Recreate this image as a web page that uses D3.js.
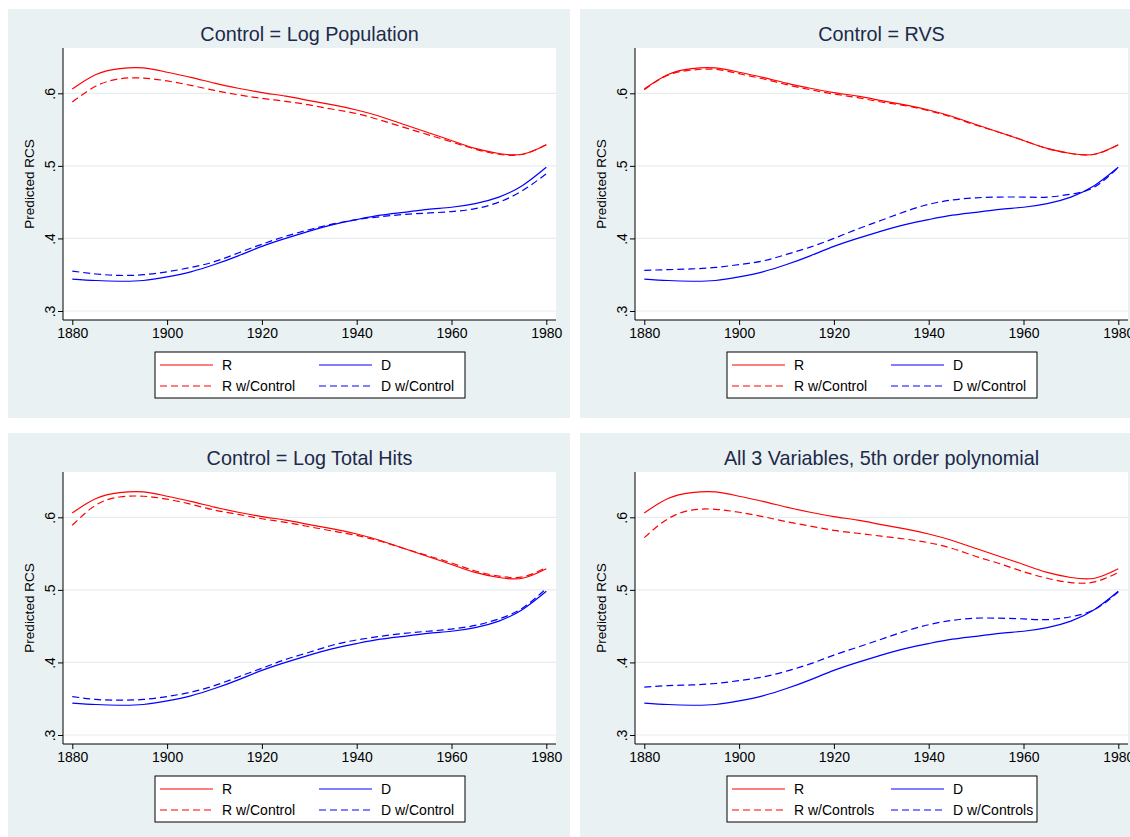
<!DOCTYPE html>
<html>
<head>
<meta charset="utf-8">
<script src="https://cdn.jsdelivr.net/npm/d3@7"></script>
<style>
  html, body { margin: 0; padding: 0; background: #ffffff; }
  svg { display: block; font-family: "Liberation Sans", Arial, Helvetica, sans-serif; }
</style>
</head>
<body>
<svg id="chart" width="1130" height="837"></svg>
<script>
// Sample years for the fitted curves (every 5 years)
const years = [1880, 1885, 1890, 1895, 1900, 1905, 1910, 1915, 1920, 1925, 1930,
               1935, 1940, 1945, 1950, 1955, 1960, 1965, 1970, 1975, 1980];

// Uncontrolled predictions (same in every panel)
const rBase = [0.606, 0.626, 0.634, 0.635, 0.629, 0.622, 0.614, 0.607, 0.601, 0.596, 0.590,
               0.584, 0.577, 0.568, 0.557, 0.546, 0.535, 0.524, 0.517, 0.516, 0.529];
const dBase = [0.344, 0.342, 0.341, 0.342, 0.347, 0.354, 0.364, 0.376, 0.389, 0.400, 0.410,
               0.419, 0.426, 0.432, 0.436, 0.440, 0.443, 0.448, 0.457, 0.473, 0.498];

// Predictions with controls
const rPop  = [0.588, 0.610, 0.620, 0.621, 0.617, 0.611, 0.604, 0.598, 0.593, 0.589, 0.584,
               0.578, 0.572, 0.563, 0.553, 0.543, 0.533, 0.523, 0.516, 0.516, 0.529];
const dPop  = [0.355, 0.351, 0.349, 0.350, 0.354, 0.360, 0.368, 0.380, 0.392, 0.403, 0.412,
               0.420, 0.426, 0.430, 0.433, 0.435, 0.437, 0.441, 0.450, 0.466, 0.489];
const rRvs  = [0.605, 0.625, 0.632, 0.633, 0.627, 0.620, 0.612, 0.605, 0.599, 0.594, 0.588,
               0.583, 0.576, 0.567, 0.556, 0.546, 0.535, 0.524, 0.517, 0.516, 0.529];
const dRvs  = [0.356, 0.357, 0.358, 0.360, 0.364, 0.369, 0.378, 0.388, 0.400, 0.413, 0.425,
               0.437, 0.447, 0.453, 0.456, 0.457, 0.457, 0.457, 0.461, 0.471, 0.498];
const rHits = [0.589, 0.617, 0.628, 0.629, 0.625, 0.618, 0.610, 0.604, 0.598, 0.593, 0.587,
               0.581, 0.575, 0.567, 0.557, 0.547, 0.537, 0.526, 0.519, 0.518, 0.531];
const dHits = [0.353, 0.349, 0.348, 0.349, 0.353, 0.359, 0.368, 0.380, 0.392, 0.404, 0.414,
               0.424, 0.431, 0.436, 0.440, 0.443, 0.446, 0.451, 0.460, 0.475, 0.502];
const rAll  = [0.572, 0.598, 0.610, 0.611, 0.607, 0.601, 0.594, 0.588, 0.582, 0.578, 0.574,
               0.570, 0.565, 0.557, 0.546, 0.536, 0.525, 0.516, 0.510, 0.511, 0.524];
const dAll  = [0.366, 0.368, 0.369, 0.371, 0.375, 0.380, 0.388, 0.398, 0.410, 0.421, 0.432,
               0.443, 0.452, 0.458, 0.461, 0.461, 0.460, 0.459, 0.463, 0.473, 0.497];

// Axis ticks
const xTicks = [1880, 1900, 1920, 1940, 1960, 1980];
const yTicks = [0.3, 0.4, 0.5, 0.6];
const yTickLabels = [".3", ".4", ".5", ".6"];

const titles = ["Control = Log Population", "Control = RVS", "Control = Log Total Hits", "All 3 Variables, 5th order polynomial"];
const ctrlLabels = ["Control", "Control", "Control", "Controls"];
const ctrlR = [rPop, rRvs, rHits, rAll];
const ctrlD = [dPop, dRvs, dHits, dAll];

const RED = "#ff0000", BLUE = "#0000ff";
const BG = "#eaf1f3", GRID = "#e6edf0", TITLE = "#1c2a4a";

const svg = d3.select("#chart");

// Panel placement
const panelW = 562, panelH = 409;
const panelPos = [[8, 9], [580, 9], [8, 433], [580, 433]];
// Plot area inside a panel
const plot = { left: 55, right: 548, top: 39, bottom: 311 };

const x = d3.scaleLinear().domain([1880, 1980]).range([64.3, 538.3]);
const y = d3.scaleLinear().domain([0.3, 0.6]).range([302, 84.3]);

titles.forEach((title, i) => {
  const [px, py] = panelPos[i];
  const g = svg.append("g").attr("transform", `translate(${px},${py})`);

  g.append("rect").attr("width", panelW).attr("height", panelH).attr("fill", BG);
  g.append("rect")
    .attr("x", plot.left).attr("y", plot.top)
    .attr("width", plot.right - plot.left).attr("height", plot.bottom - plot.top)
    .attr("fill", "#ffffff");

  // grid lines
  g.selectAll(".grid").data(yTicks).join("line")
    .attr("x1", plot.left).attr("x2", plot.right)
    .attr("y1", d => y(d)).attr("y2", d => y(d))
    .attr("stroke", GRID).attr("stroke-width", 1.2);

  // title
  g.append("text")
    .attr("x", (plot.left + plot.right) / 2).attr("y", 32)
    .attr("text-anchor", "middle")
    .attr("font-size", 19.8).attr("fill", TITLE)
    .text(title);

  // y axis
  const yAxis = d3.axisLeft(y).tickValues(yTicks).tickSize(5)
    .tickFormat((d, k) => yTickLabels[k]);
  const ya = g.append("g").attr("transform", `translate(${plot.left},0)`).call(yAxis);
  ya.select(".domain").attr("d", `M0,${plot.top}V${plot.bottom}`).attr("stroke", "#000");
  ya.selectAll(".tick text")
    .attr("x", null).attr("dy", null)
    .attr("text-anchor", "middle")
    .attr("transform", "translate(-13,0) rotate(-90)")
    .attr("dy", "0.35em")
    .attr("font-size", 14).attr("fill", "#000")
    .attr("font-family", "Liberation Sans, Arial, sans-serif");

  // x axis
  const xAxis = d3.axisBottom(x).tickValues(xTicks).tickSize(5).tickFormat(d3.format("d"));
  const xa = g.append("g").attr("transform", `translate(0,${plot.bottom})`).call(xAxis);
  xa.select(".domain").attr("d", `M${plot.left},0H${plot.right}`).attr("stroke", "#000");
  xa.selectAll(".tick text")
    .attr("y", 8)
    .attr("font-size", 14).attr("fill", "#000")
    .attr("font-family", "Liberation Sans, Arial, sans-serif");

  // y axis title
  g.append("text")
    .attr("transform", `translate(26,${(plot.top + plot.bottom) / 2}) rotate(-90)`)
    .attr("text-anchor", "middle")
    .attr("font-size", 13.5).attr("fill", "#000")
    .text("Predicted RCS");

  // curves
  const line = d3.line()
    .x((d, k) => x(years[k]))
    .y(d => y(d))
    .curve(d3.curveNatural);

  const series = [
    { v: rBase, c: RED, dash: null },
    { v: ctrlR[i], c: RED, dash: "7,4" },
    { v: dBase, c: BLUE, dash: null },
    { v: ctrlD[i], c: BLUE, dash: "7,4" }
  ];
  series.forEach(s => {
    g.append("path")
      .attr("d", line(s.v))
      .attr("fill", "none")
      .attr("stroke", s.c)
      .attr("stroke-width", 1.2)
      .attr("stroke-dasharray", s.dash);
  });

  // legend
  const lg = g.append("g").attr("transform", "translate(147,343)");
  lg.append("rect").attr("width", 310).attr("height", 46)
    .attr("fill", "#ffffff").attr("stroke", "#000").attr("stroke-width", 1);
  const items = [
    { label: "R", c: RED, dash: null, col: 0, row: 0 },
    { label: "D", c: BLUE, dash: null, col: 1, row: 0 },
    { label: "R w/" + ctrlLabels[i], c: RED, dash: "7,4", col: 0, row: 1 },
    { label: "D w/" + ctrlLabels[i], c: BLUE, dash: "7,4", col: 1, row: 1 }
  ];
  items.forEach(it => {
    const ox = it.col === 0 ? 5 : 164;
    const oy = it.row === 0 ? 13 : 34;
    lg.append("line")
      .attr("x1", ox).attr("x2", ox + 53)
      .attr("y1", oy).attr("y2", oy)
      .attr("stroke", it.c).attr("stroke-width", 1.2)
      .attr("stroke-dasharray", it.dash);
    lg.append("text")
      .attr("x", ox + 62).attr("y", oy).attr("dy", "0.35em")
      .attr("font-size", 14).attr("fill", "#000")
      .text(it.label);
  });
});
</script>
</body>
</html>
